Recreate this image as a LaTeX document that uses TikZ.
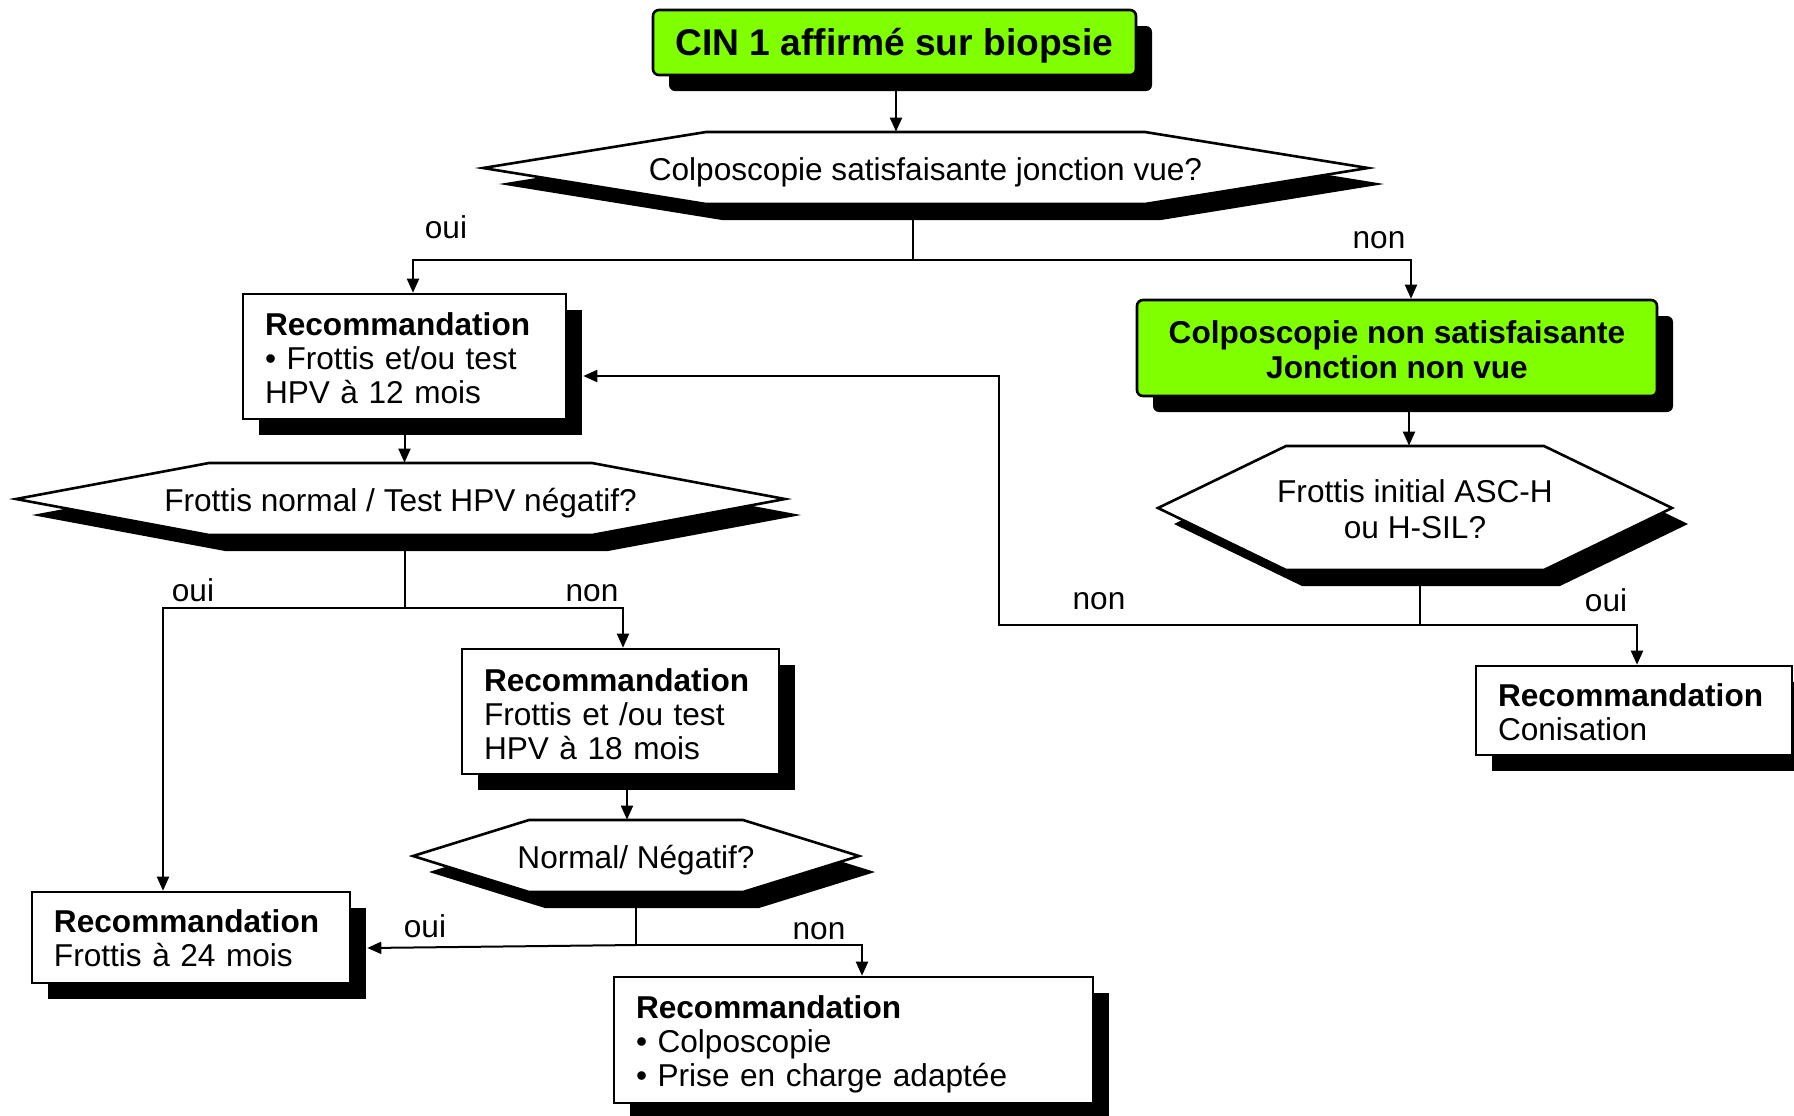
\documentclass[tikz,border=0pt]{standalone}
\usepackage{fontspec}
\setmainfont{Liberation Sans}
\usetikzlibrary{shadows,arrows.meta,calc}
\pgfdeclarelayer{bg}
\pgfsetlayers{bg,main}
\definecolor{lgreen}{HTML}{80FF00}
\newcommand{\fsn}{\fontsize{15.8pt}{17pt}\selectfont}
\newcommand{\fsh}{\fontsize{15.8pt}{18pt}\selectfont}
\newcommand{\fsg}{\fontsize{15.8pt}{17.5pt}\selectfont}
\newcommand{\fst}{\fontsize{18.6pt}{21pt}\selectfont}
\newcommand{\dn}[1]{\rule{0pt}{#1}}
% xl, yt, xr, yb, cut
\newcommand{\hexdraw}[5]{%
\begin{pgfonlayer}{bg}
\fill[black] ({#1+16},{(#2+#4)/2+16}) -- ({#1+#5+16},{#2+16}) -- ({#3-#5+16},{#2+16}) -- ({#3+16},{(#2+#4)/2+16}) -- ({#3-#5+16},{#4+16}) -- ({#1+#5+16},{#4+16}) -- cycle;
\filldraw[fill=white,draw=black,line width=1.3pt,line join=miter] ({#1},{(#2+#4)/2}) -- ({#1+#5},{#2}) -- ({#3-#5},{#2}) -- ({#3},{(#2+#4)/2}) -- ({#3-#5},{#4}) -- ({#1+#5},{#4}) -- cycle;
\end{pgfonlayer}}
\begin{document}
\begin{tikzpicture}[x=0.5pt,y=-0.5pt,
  shad/.style={drop shadow={shadow xshift=8pt,shadow yshift=-8pt,fill=black,opacity=1}},
  rbox/.style={shad,draw,line width=1.3pt,fill=white,inner xsep=11pt,inner ysep=0pt,align=left,font=\fsn},
  gbox/.style={shad,draw,line width=1.3pt,fill=lgreen,rounded corners=3pt,inner sep=0pt,align=center},
  htext/.style={inner sep=0pt,align=center,font=\fsn},
  lbl/.style={inner sep=0pt,font=\fsn},
  conn/.style={line width=1pt},
  arr/.style={conn,-{Triangle[length=7pt,width=6pt]}}]

\useasboundingbox (0,0) rectangle (1794,1115);
\begin{pgfonlayer}{bg}\fill[white] (0,0) rectangle (1794,1115);\end{pgfonlayer}

% nodes
\node[gbox,minimum width=241.5pt,minimum height=32.5pt,font=\bfseries\fst] (top) at (894.5,42.5) {\dn{17pt}CIN 1 affirmé sur biopsie};

\hexdraw{483}{132}{1368}{204}{223}
\node[htext,minimum width=442.5pt,minimum height=36pt] (h1) at (925.5,168) {\dn{16pt}Colposcopie satisfaisante jonction vue?};

\node[rbox,text width=139.5pt,minimum height=62.5pt] (box12) at (404.5,356.5) {\textbf{\dn{13.3pt}Recommandation}\\• Frottis et/ou test\\HPV à 12 mois};

\node[gbox,minimum width=260pt,minimum height=48pt,font=\bfseries\fsg] (green2) at (1397,348) {\dn{13.2pt}Colposcopie non satisfaisante\\Jonction non vue};

\hexdraw{16}{463}{785}{535}{193}
\node[htext,minimum width=384.5pt,minimum height=36pt] (h2) at (400.5,499) {\dn{16pt}Frottis normal / Test HPV négatif?};

\hexdraw{1158}{446}{1672}{570}{128}
\node[htext,minimum width=257pt,minimum height=62pt,font=\fsh] (h3) at (1415,508) {\dn{12.8pt}Frottis initial ASC-H\\ou H-SIL?};

\node[rbox,text width=136.5pt,minimum height=62.5pt] (box18) at (620.5,711.5) {\textbf{\dn{14.3pt}Recommandation}\\Frottis et /ou test\\HPV à 18 mois};

\hexdraw{413}{820}{859}{892}{116}
\node[htext,minimum width=223pt,minimum height=36pt] (h4) at (636,856) {\dn{16pt}Normal/ Négatif?};

\node[rbox,text width=137pt,minimum height=45.5pt] (box24) at (191,937.5) {\textbf{\dn{12.4pt}Recommandation}\\Frottis à 24 mois};

\node[rbox,text width=217.5pt,minimum height=63pt] (final) at (853.5,1040) {\textbf{\dn{15.9pt}Recommandation}\\• Colposcopie\\• Prise en charge adaptée};

\node[rbox,text width=136pt,minimum height=44.5pt] (conis) at (1634,710.5) {\textbf{\dn{13pt}Recommandation}\\Conisation};

% reference coordinates
\coordinate (c1x) at (896,0);
\coordinate (c2x) at (413,0);
\coordinate (c3x) at (1411,0);
\coordinate (c4x) at (1409,0);
\coordinate (c5x) at (1637,0);
\coordinate (c6x) at (999,0);
\coordinate (c7x) at (163,0);
\coordinate (c8x) at (623,0);
\coordinate (c9x) at (627,0);
\coordinate (c10x) at (862,0);
\coordinate (j1) at (913,260);
\coordinate (j2) at (405,608);
\coordinate (j3) at (1420,625);
\coordinate (j4) at (636,945);
\coordinate (b12in) at ($(box12.east)+(16,19.5)$);
\coordinate (b24in) at ($(box24.east)+(16,10.5)$);

% connectors
\draw[arr] (top.south -| c1x) -- (h1.north -| c1x);
\draw[conn] (h1.south -| j1) -- (j1);
\draw[arr] (j1) -| (box12.north -| c2x);
\draw[arr] (j1) -| (green2.north -| c3x);
\draw[arr] (green2.south -| c4x) -- (h3.north -| c4x);
\draw[conn] (h3.south -| j3) -- (j3);
\draw[arr] (j3) -| (conis.north -| c5x);
\draw[arr] (j3) -| (c6x |- b12in) -- (b12in);
\draw[arr] (box12.south) -- (box12.south |- h2.north);
\draw[conn] (h2.south -| j2) -- (j2);
\draw[arr] (j2) -| (box24.north -| c7x);
\draw[arr] (j2) -| (box18.north -| c8x);
\draw[arr] (box18.south -| c9x) -- (h4.north -| c9x);
\draw[conn] (h4.south) -- (j4);
\draw[arr] (j4) -- (b24in);
\draw[arr] (j4) -| (final.north -| c10x);

% labels
\node[lbl] (l1) at (446,227) {oui};
\node[lbl] (l2) at (1379,240) {non};
\node[lbl] (l3) at (193,590) {oui};
\node[lbl] (l4) at (592,593) {non};
\node[lbl] (l5) at (1099,601) {non};
\node[lbl] (l6) at (1606,600) {oui};
\node[lbl] (l7) at (425,926) {oui};
\node[lbl] (l8) at (819,931) {non};
\end{tikzpicture}
\end{document}
